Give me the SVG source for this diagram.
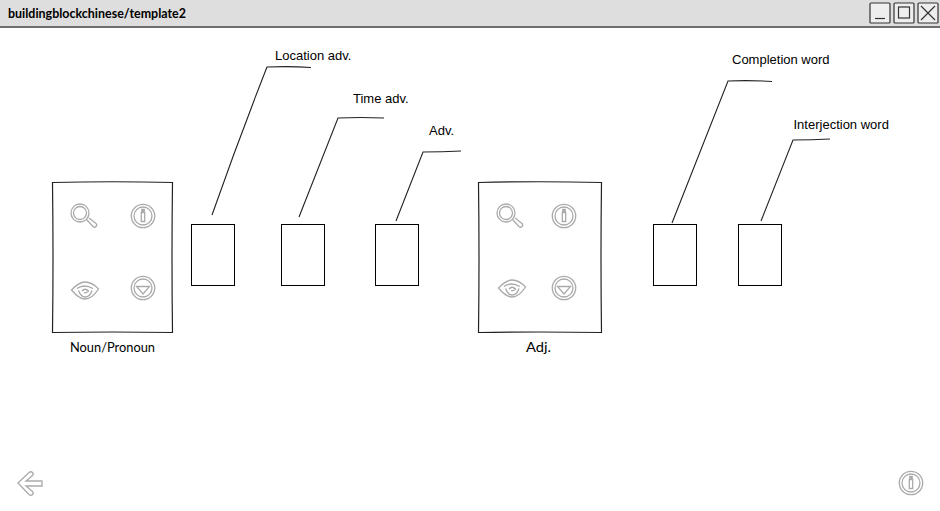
<svg xmlns="http://www.w3.org/2000/svg" width="940" height="511" viewBox="0 0 940 511">
<style>
.box{fill:#fff;stroke:#000;stroke-width:1}
.sk{fill:#fff;stroke:#222;stroke-width:1.2}
.ln{fill:none;stroke:#222;stroke-width:1.1}
.ic{fill:none;stroke:#aaa;stroke-width:1.3}
.btn{fill:#eee;stroke:#333;stroke-width:1.2}
.lbl{font-family:"Liberation Sans",Arial,sans-serif;font-size:13px;fill:#000}
.cap{font-family:"Lato","Noto Sans",sans-serif;font-size:13px;fill:#000}
.ttl{font-family:"Lato","Noto Sans",sans-serif;font-size:12.5px;font-weight:700;fill:#000}
</style>
<defs>
<g id="info"><circle class="ic" r="11.7"/><circle class="ic" r="9"/><path class="ic" d="M-1.700 -3.500H1.700V5.500H-1.700ZM-1.200 -6.500H1.200V-5H-1.200Z"/></g>
<g id="search"><circle class="ic" r="9"/><circle class="ic" r="6.500"/><path class="ic" d="M6.500 6.500L13 13.500Q14.500 15 16 13.500Q17.500 12 16 10.500L9 5"/></g>
<g id="eye"><path class="ic" d="M-13.500 0Q-6 -8 0 -8Q7 -8 13.500 -1Q7 9 0 9Q-6 9 -13.500 0Z"/><path class="ic" d="M-8 -1.500Q-1 -6.500 8 -1.500M-6.500 0.500Q-4 7 0 7Q5 7 7 0.500M-3 1Q0 -2.500 3.500 1Q1 3.500 -1 2.500"/></g>
<g id="down"><circle class="ic" r="11.7"/><circle class="ic" r="9"/><path class="ic" d="M-6.500 -1.500H6.500L0 6Z"/></g>
</defs>

<g id="titlebar">
<rect x="0" y="0" width="940" height="26" fill="#dedede"/>
<rect x="0" y="26" width="940" height="2" fill="#6e6e6e"/>
<text class="ttl" x="8" y="18" textLength="178" lengthAdjust="spacingAndGlyphs">buildingblockchinese/template2</text>
<rect class="btn" x="870" y="3" width="20" height="20" rx="1"/>
<path d="M875 18.500H885" stroke="#333" stroke-width="1.200"/>
<rect class="btn" x="894" y="3" width="20" height="20" rx="1"/>
<rect x="898.500" y="7" width="11" height="11" fill="none" stroke="#333" stroke-width="1.200"/>
<rect class="btn" x="918" y="3" width="20" height="20" rx="1"/>
<path d="M921 6L935 20M935 6L921 20" stroke="#333" stroke-width="1.200"/>
</g>

<g id="connectors">
<path class="ln" d="M212 215Q238 141 267 67Q290 66 311 67.500"/>
<path class="ln" d="M299 217L338 118Q360 117 384 118"/>
<path class="ln" d="M396 221L423 152Q442 152 461 151"/>
<path class="ln" d="M672 223L728 81Q750 80 772 81.500"/>
<path class="ln" d="M761 221L793 140Q812 140 830 139"/>
</g>

<g id="node-noun">
<path class="sk" d="M52.500 182.500Q112 181 172.500 182.500Q171.500 258 172.500 332.500Q112 331.500 52.500 332.500Q53.500 258 52.500 182.500Z"/>
<use href="#search" x="80" y="213"/>
<use href="#info" x="143" y="216"/>
<use href="#eye" x="85" y="290"/>
<use href="#down" x="143" y="288"/>
<text class="cap" x="112.500" y="352" text-anchor="middle" textLength="85" lengthAdjust="spacingAndGlyphs">Noun/Pronoun</text>
</g>

<g id="node-adj">
<path class="sk" d="M478.500 182.500Q540 181 601.500 182.500Q600.500 258 601.500 332.500Q540 331.500 478.500 332.500Q479.500 258 478.500 182.500Z"/>
<use href="#search" x="506" y="213"/>
<use href="#info" x="564" y="216"/>
<use href="#eye" x="512" y="288"/>
<use href="#down" x="564" y="288"/>
<text class="cap" x="538.500" y="352" text-anchor="middle" textLength="25" lengthAdjust="spacingAndGlyphs">Adj.</text>
</g>

<g id="node-location"><rect class="box" x="191.500" y="224.500" width="43" height="61"/><text class="lbl" x="275" y="60">Location adv.</text></g>
<g id="node-time"><rect class="box" x="281.500" y="224.500" width="43" height="61"/><text class="lbl" x="353" y="103">Time adv.</text></g>
<g id="node-adv"><rect class="box" x="375.500" y="224.500" width="43" height="61"/><text class="lbl" x="429" y="135">Adv.</text></g>
<g id="node-completion"><rect class="box" x="653.500" y="224.500" width="43" height="61"/><text class="lbl" x="732" y="64">Completion word</text></g>
<g id="node-interjection"><rect class="box" x="738.500" y="224.500" width="43" height="61"/><text class="lbl" x="793.500" y="129">Interjection word</text></g>

<g id="back">
<path class="ic" d="M18 483L29 472.500Q31 471 32.500 472.500Q34 474 32.500 475.500L26 481H42V486H26L32.500 491.500Q34 493 32.500 494.500Q31 496 29 494.500Z"/>
</g>
<g id="info-button"><use href="#info" x="911" y="483"/></g>
</svg>
